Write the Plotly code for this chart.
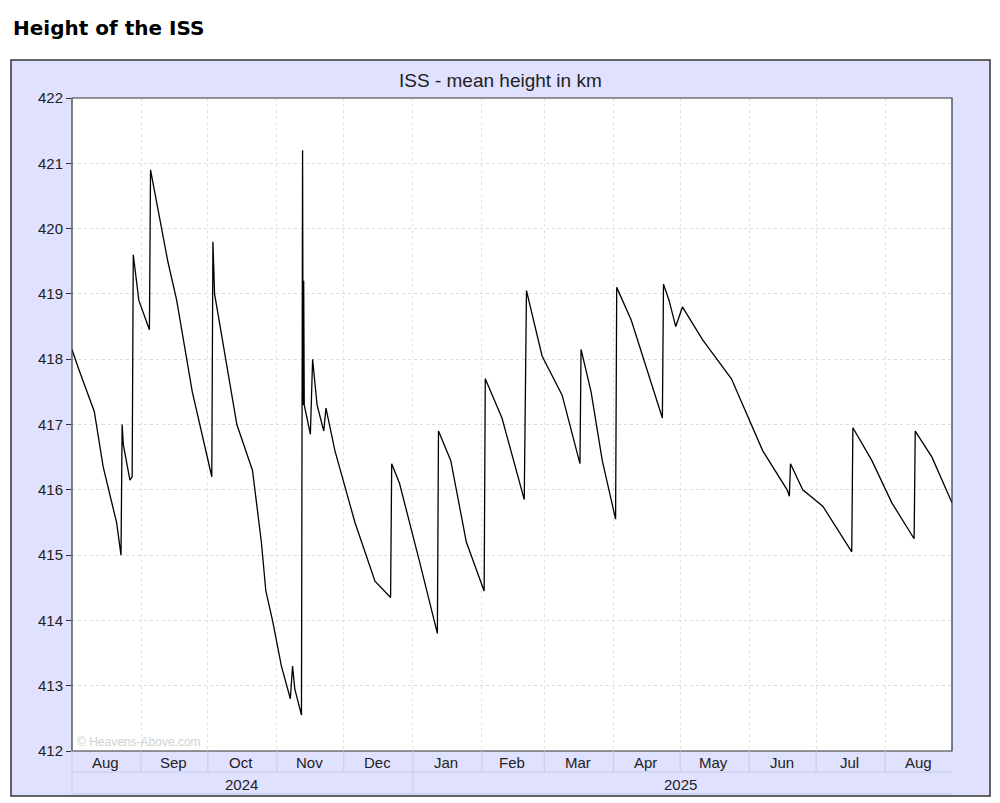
import plotly.graph_objects as go

dates = ["2024-08-01","2024-08-04","2024-08-11","2024-08-15","2024-08-21","2024-08-23 00:00","2024-08-23 12:00","2024-08-24","2024-08-27","2024-08-28 00:00","2024-08-28 12:00","2024-08-31","2024-09-04 18:00","2024-09-05 06:00","2024-09-08","2024-09-13","2024-09-17","2024-09-24","2024-10-02 18:00","2024-10-03 06:00","2024-10-04","2024-10-10","2024-10-14","2024-10-21","2024-10-25","2024-10-27","2024-10-30","2024-11-03","2024-11-07","2024-11-08","2024-11-09","2024-11-12 00:00","2024-11-12 06:00","2024-11-12 12:00","2024-11-12 18:00","2024-11-13 00:00","2024-11-13 06:00","2024-11-16","2024-11-17","2024-11-19","2024-11-22","2024-11-23","2024-11-27","2024-12-06","2024-12-15","2024-12-22 00:00","2024-12-22 12:00","2024-12-26","2025-01-04","2025-01-12 00:00","2025-01-12 12:00","2025-01-18","2025-01-25","2025-02-02 00:00","2025-02-02 12:00","2025-02-10","2025-02-20 00:00","2025-02-21","2025-02-28","2025-03-09","2025-03-17 00:00","2025-03-17 12:00","2025-03-22","2025-03-27","2025-04-01","2025-04-02 00:00","2025-04-02 12:00","2025-04-09","2025-04-23 00:00","2025-04-23 12:00","2025-04-26","2025-04-29","2025-05-02","2025-05-11","2025-05-24","2025-06-07","2025-06-18","2025-06-19 00:00","2025-06-19 12:00","2025-06-25","2025-07-04","2025-07-17 00:00","2025-07-17 12:00","2025-07-26","2025-08-04","2025-08-14 00:00","2025-08-14 12:00","2025-08-22","2025-08-31"]
heights = [418.15,417.85,417.2,416.35,415.5,415.0,417.0,416.7,416.15,416.2,419.6,418.9,418.45,420.9,420.4,419.5,418.9,417.5,416.2,419.8,419.0,417.8,417.0,416.3,415.2,414.45,414.0,413.3,412.8,413.3,412.95,412.55,416.9,421.2,417.3,419.2,417.3,416.85,418.0,417.3,416.9,417.25,416.6,415.5,414.6,414.35,416.4,416.1,414.9,413.8,416.9,416.45,415.2,414.45,417.7,417.1,415.85,419.05,418.05,417.45,416.4,418.15,417.5,416.45,415.7,415.55,419.1,418.6,417.1,419.15,418.9,418.5,418.8,418.3,417.7,416.6,416.0,415.9,416.4,416.0,415.75,415.05,416.95,416.45,415.8,415.25,416.9,416.5,415.8]

months = ["Aug","Sep","Oct","Nov","Dec","Jan","Feb","Mar","Apr","May","Jun","Jul","Aug"]
month_mid = ["2024-08-16","2024-09-15 12:00","2024-10-16","2024-11-15 12:00","2024-12-16","2025-01-16","2025-02-14 12:00","2025-03-16","2025-04-15 12:00","2025-05-16","2025-06-15 12:00","2025-07-16","2025-08-16"]
month_starts = ["2024-09-01","2024-10-01","2024-11-01","2024-12-01","2025-01-01","2025-02-01","2025-03-01","2025-04-01","2025-05-01","2025-06-01","2025-07-01","2025-08-01"]
years = ["2024","2025"]
year_mid = ["2024-10-16","2025-05-01"]

X0, X1 = "2024-08-01", "2025-08-31"
OFF = 8
W, H = 1000 - OFF, 803 - OFF
L, R, T, B = 72 - OFF, 952 - OFF, 98 - OFF, 751 - OFF
def px(x): return (x - OFF - L) / (R - L)
def py(y): return (B - (y - OFF)) / (B - T)

fig = go.Figure(go.Scatter(x=dates, y=heights, mode="lines",
                           line=dict(color="black", width=1.3), hoverinfo="skip"))

lc = "#c8c8e8"
shapes = [
    dict(type="rect", xref="paper", yref="paper", x0=px(11), x1=px(990), y0=py(796), y1=py(60),
         fillcolor="#e0e0ff", line=dict(color="#333333", width=1.5), layer="below"),
    dict(type="rect", xref="paper", yref="paper", x0=0, x1=1, y0=0, y1=1,
         fillcolor="white", line=dict(width=0), layer="below"),
    dict(type="rect", xref="paper", yref="paper", x0=0, x1=1, y0=0, y1=1,
         line=dict(color="#333333", width=1.2), layer="above"),
    dict(type="line", xref="paper", yref="paper", x0=0, x1=1, y0=py(772), y1=py(772),
         line=dict(color=lc, width=1)),
    dict(type="line", xref="paper", yref="paper", x0=0, x1=1, y0=py(794), y1=py(794),
         line=dict(color=lc, width=1)),
    dict(type="line", xref="paper", yref="paper", x0=0, x1=0, y0=py(794), y1=0,
         line=dict(color=lc, width=1)),
]
for m in month_starts:
    shapes.append(dict(type="line", xref="x", yref="paper", x0=m, x1=m, y0=py(772), y1=0,
                       line=dict(color=lc, width=1)))
shapes.append(dict(type="line", xref="x", yref="paper", x0="2025-01-01", x1="2025-01-01",
                   y0=py(794), y1=py(772), line=dict(color=lc, width=1)))

ann = [dict(text="<b>Height of the ISS</b>", xref="paper", yref="paper", x=px(11), y=py(28),
            xanchor="left", yanchor="middle", showarrow=False,
            font=dict(family="DejaVu Sans", size=20, color="black")),
       dict(text="ISS - mean height in km", xref="paper", yref="paper", x=px(500), y=py(80),
            xanchor="center", yanchor="middle", showarrow=False,
            font=dict(family="Liberation Sans", size=19, color="#222")),
       dict(text="© Heavens-Above.com", xref="paper", yref="paper", x=px(75), y=py(742),
            xanchor="left", yanchor="middle", showarrow=False,
            font=dict(family="Liberation Sans", size=12, color="#d0d0d0"))]
for m, d in zip(months, month_mid):
    ann.append(dict(text=m, xref="x", yref="paper", x=d, y=py(762), showarrow=False,
                    xanchor="center", yanchor="middle",
                    font=dict(family="Liberation Sans", size=15, color="#222")))
for yv, d in zip(years, year_mid):
    ann.append(dict(text=yv, xref="x", yref="paper", x=d, y=py(784), showarrow=False,
                    xanchor="center", yanchor="middle",
                    font=dict(family="Liberation Sans", size=15, color="#222")))

fig.update_layout(
    width=W, height=H, margin=dict(l=L, r=W - R, t=T, b=H - B),
    paper_bgcolor="white", plot_bgcolor="rgba(0,0,0,0)", showlegend=False,
    shapes=shapes, annotations=ann,
    xaxis=dict(type="date", range=[X0, X1], tick0="2024-09-01", dtick="M1",
               showticklabels=False, showgrid=True, gridcolor="#e4e4e4", griddash="dot",
               zeroline=False, ticks=""),
    yaxis=dict(range=[412, 422], dtick=1, showgrid=True, gridcolor="#dcdcdc", griddash="dot",
               ticks="outside", ticklen=5, tickcolor="#333", zeroline=False,
               tickfont=dict(family="Liberation Sans", size=15, color="#222")),
)
fig.write_html("out.html")
